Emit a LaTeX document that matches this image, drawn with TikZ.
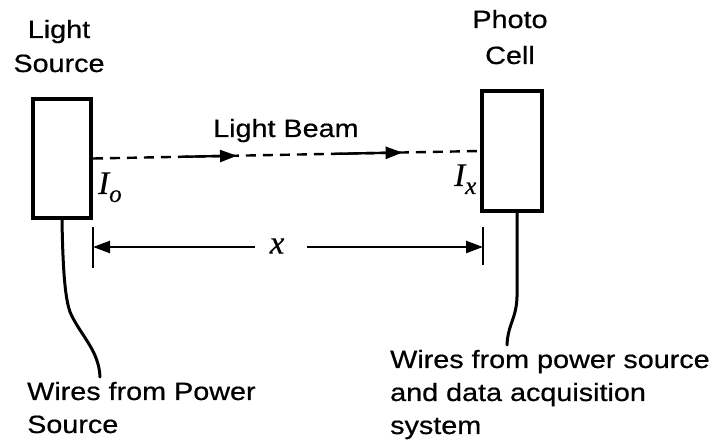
\documentclass[tikz,border=0pt]{standalone}
\usepackage{fontspec}
\setmainfont[FakeStretch=1.15,FakeBold=0.6]{Liberation Sans}
\newfontfamily\tmsfont[FakeBold=0.4]{Liberation Serif}
\usetikzlibrary{arrows.meta,calc}
\begin{document}
\begin{tikzpicture}[x=1pt,y=-1pt,
  boxnode/.style={draw,line width=4pt,inner sep=0pt},
  lbl/.style={font=\fontsize{25}{33}\selectfont,inner sep=0pt},
  mathlbl/.style={font=\tmsfont\itshape\fontsize{33}{33}\selectfont,inner sep=0pt},
  wire/.style={line width=3pt,line cap=round},
  beam/.style={line width=2.4pt,dash pattern=on 10pt off 7pt},
  arr/.style={line width=2.4pt,-{Triangle[length=17pt,width=12pt]}},
  tick/.style={line width=2pt}]
\useasboundingbox (0,0) rectangle (726,443);
\fill[white] (0,0) rectangle (726,443);
% boxes
\node[boxnode,minimum width=58pt,minimum height=119pt] (src) at (62,158.5) {};
\node[boxnode,minimum width=60pt,minimum height=120pt] (cell) at (512,151) {};
% top labels
\node[lbl,anchor=base] (ls1) at (59,38) {Light};
\node[lbl,anchor=base] (ls2) at (59,72) {Source};
\node[lbl,anchor=base] (pc1) at (510,28) {Photo};
\node[lbl,anchor=base] (pc2) at (510,64) {Cell};
\node[lbl,anchor=base west] (lb) at (213,137) {Light Beam};
% beam
\draw[beam] (src.east) -- (cell.west);
\path (src.east) -- (cell.west)
  coordinate[pos=0.23] (s1) coordinate[pos=0.372] (e1)
  coordinate[pos=0.625] (s2) coordinate[pos=0.80] (e2);
\draw[arr] (s1) -- (e1);
\draw[arr] (s2) -- (e2);
% intensity labels
\node[mathlbl,anchor=base west] (io) at (98,194) {I\raisebox{-8pt}{\fontsize{25}{25}\selectfont o}};
\node[mathlbl,anchor=base west] (ix) at (454,186) {I\raisebox{-8pt}{\fontsize{25}{25}\selectfont x}};
% dimension
\coordinate (dl1) at (93,227);
\coordinate (dl2) at (93,268);
\coordinate (dr1) at (483,227);
\coordinate (dr2) at (483,265);
\coordinate (da) at (93,247);
\coordinate (db) at (483,247);
\coordinate (xa) at (255,247);
\coordinate (xb) at (307,247);
\draw[tick] (dl1) -- (dl2);
\draw[tick] (dr1) -- (dr2);
\draw[arr] (xa) -- (da);
\draw[arr] (xb) -- (db);
\node[mathlbl] (xl) at (277,246) {x};
% wires
\coordinate (wl) at (100,377);
\coordinate (wr) at (507,345);
\draw[wire] (src.south) .. controls (63,280) and (66,300) .. (70,312)
  .. controls (80,335) and (99,350) .. (wl);
\draw[wire] ($(cell.south)+(5,0)$) -- (517,290)
  .. controls (518,318) and (508,322) .. (wr);
% bottom labels
\node[lbl,anchor=base west] (wl1) at (27,400) {Wires from Power};
\node[lbl,anchor=base west] (wl2) at (27,433) {Source};
\node[lbl,anchor=base west] (wr1) at (390,368) {Wires from power source};
\node[lbl,anchor=base west] (wr2) at (390,401) {and data acquisition};
\node[lbl,anchor=base west] (wr3) at (390,434) {system};
\end{tikzpicture}
\end{document}
